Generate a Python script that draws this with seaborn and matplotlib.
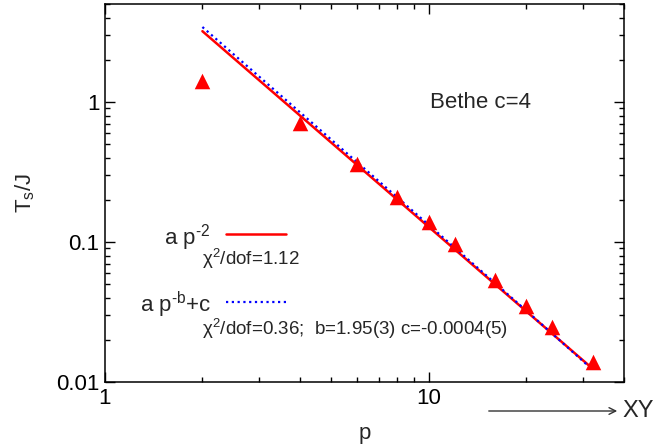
import numpy as np
import pandas as pd
import seaborn as sns
import matplotlib
matplotlib.use("Agg")
import matplotlib.pyplot as plt

# data
p = [2, 4, 6, 8, 10, 12, 16, 20, 24, 32]
ts = [1.41, 0.708, 0.36, 0.21, 0.139, 0.097, 0.054, 0.035, 0.0248, 0.0139]

# fit curves: a p^-2 and a p^-b + c
fit1_a = 12.8
fit2_a, fit2_b, fit2_c = 13.9, 2.02, -0.0004
p_fit = np.geomspace(2, 32, 60)

sns.set_theme(style="ticks")
plt.rcParams['font.family'] = ['Liberation Sans', 'DejaVu Sans']
plt.rcParams['mathtext.fontset'] = 'custom'
plt.rcParams['mathtext.rm'] = 'Liberation Sans'
plt.rcParams['mathtext.it'] = 'Liberation Sans'

fig = plt.figure(figsize=(6.68, 4.48), dpi=100)
ax = fig.add_axes([0.157, 0.147, 0.777, 0.844])

df_fit = pd.DataFrame({"p": p_fit,
                       "f1": fit1_a * p_fit ** -2.0,
                       "f2": fit2_a * p_fit ** -fit2_b + fit2_c})
sns.lineplot(data=df_fit, x="p", y="f1", ax=ax, color="red", lw=1.8)
sns.lineplot(data=df_fit, x="p", y="f2", ax=ax, color="blue", lw=1.6,
             linestyle=(0, (1, 1.6)))
sns.scatterplot(x=p, y=ts, ax=ax, marker="^", s=125, color="red",
                edgecolor="red", linewidth=0, zorder=5)

ax.set_xscale("log")
ax.set_yscale("log")
ax.set_xlim(1, 40)
ax.set_ylim(0.01, 5)
ax.set_xticks([1, 10])
ax.set_xticklabels(["1", "10"])
ax.set_yticks([0.01, 0.1, 1])
ax.set_yticklabels(["0.01", "0.1", "1"])
ax.tick_params(which="both", direction="in", top=True, right=True,
               labelsize=16, colors="black", width=1)
ax.tick_params(which="major", length=7, pad=4)
ax.tick_params(which="minor", length=3.5)
for s in ax.spines.values():
    s.set_linewidth(1.1)
    s.set_color("black")

ax.set_xlabel("p", fontsize=16, labelpad=10)
ax.set_ylabel(r"T$_\mathregular{s}$/J", fontsize=16, labelpad=14)

# annotations (pixel coords from top-left)
def fx(x):
    return x / 668

def fy(y):
    return 1 - y / 448

fig.text(fx(430), fy(103), "Bethe c=4", fontsize=16, va="center")
fig.text(fx(164), fy(238), "a p$^\mathregular{\u20102}$", fontsize=16,
         va="center")
fig.text(fx(202), fy(259), "\u03c7$^\mathregular{2}$/dof=1.12",
         fontsize=13.5, va="center")
fig.text(fx(140), fy(305), "a p$^\mathregular{\u2010b}$+c", fontsize=16,
         va="center")
fig.text(fx(202), fy(329),
         "\u03c7$^\mathregular{2}$/dof=0.36;  b=1.95(3) c=-0.0004(5)",
         fontsize=13.5, va="center")
fig.add_artist(plt.Line2D([fx(226), fx(286)], [fy(234), fy(234)],
                          color="red", lw=1.8))
fig.add_artist(plt.Line2D([fx(226), fx(286)], [fy(302), fy(302)],
                          color="blue", lw=1.6, linestyle=(0, (1, 1.6))))

fig.add_artist(matplotlib.patches.FancyArrowPatch(
    (fx(486), fy(411)), (fx(620), fy(411)), transform=fig.transFigure,
    arrowstyle="->", mutation_scale=12, color="#333333", lw=1))
fig.text(fx(622), fy(411), "XY", fontsize=17, va="center")

fig.savefig("out.png", dpi=100)
